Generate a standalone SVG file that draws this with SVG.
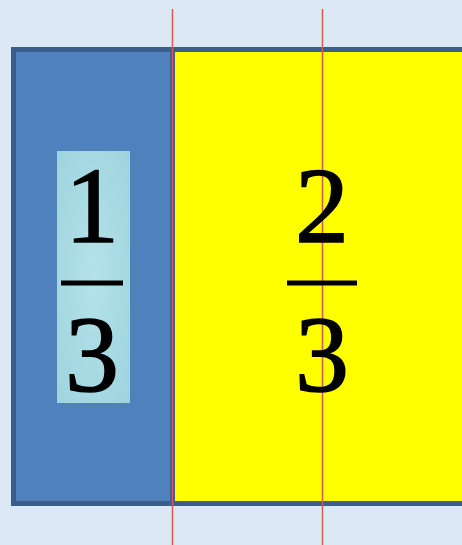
<svg xmlns="http://www.w3.org/2000/svg" width="462" height="545" viewBox="0 0 462 545">
<defs>
<style>
.num{font-family:"Liberation Serif","Times New Roman",serif;font-size:108px;fill:#000;stroke:#000;stroke-width:1.5;text-anchor:middle}
.bar{stroke:#000;stroke-width:5}
.red{stroke:#D45A5A;stroke-width:1.5}
</style>
<radialGradient id="tex" cx="0.5" cy="0.5" r="0.7">
<stop offset="0" stop-color="#B4E2EA"/>
<stop offset="1" stop-color="#9ED4DE"/>
</radialGradient>
</defs>
<rect width="462" height="545" fill="#DCE9F5"/>
<g id="left-part">
<rect x="13.5" y="49.5" width="159" height="454" fill="#4F81BD" stroke="#3B5E8C" stroke-width="5"/>
</g>
<g id="right-part">
<rect x="172.5" y="49.5" width="295" height="454" fill="#FFFF00" stroke="#3B5E8C" stroke-width="5"/>
</g>
<g id="connectors">
<line class="red" x1="172.5" y1="9" x2="172.5" y2="545"/>
<line class="red" x1="322.5" y1="9" x2="322.5" y2="545"/>
</g>
<g id="fraction-1-3">
<rect x="57" y="151" width="73" height="252" fill="url(#tex)"/>
<text class="num" x="92" y="242">1</text>
<line class="bar" x1="61" y1="283" x2="123" y2="283"/>
<text class="num" x="92" y="391">3</text>
</g>
<g id="fraction-2-3">
<text class="num" x="322" y="242">2</text>
<line class="bar" x1="287" y1="283" x2="357" y2="283"/>
<text class="num" x="322" y="391">3</text>
</g>
</svg>
